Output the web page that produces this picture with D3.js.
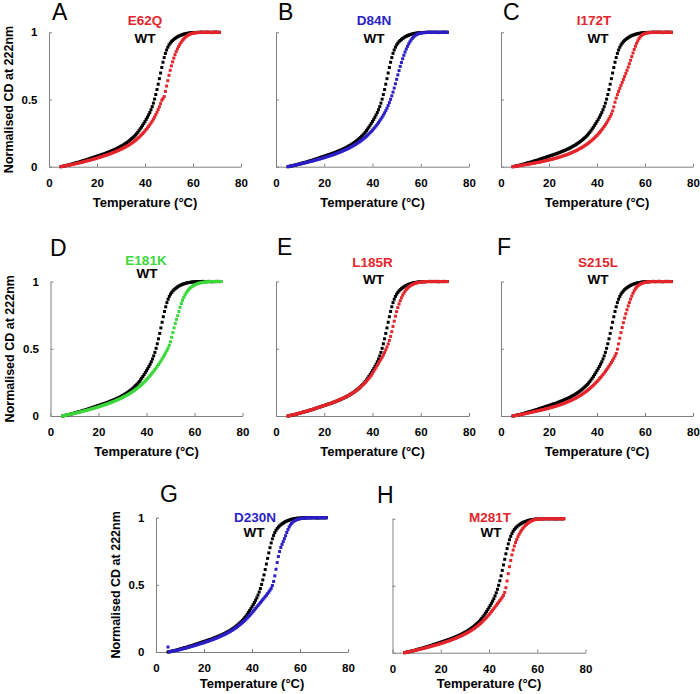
<!DOCTYPE html>
<html><head><meta charset="utf-8">
<script src="https://cdn.jsdelivr.net/npm/d3@7"></script>
<style>body{margin:0;background:#fff}svg{display:block}</style>
</head><body><svg id="c" width="700" height="694"></svg>
<script>
// ---------- DATA ----------
const temps = [
5,5.5,6,6.5,7,7.5,8,8.5,9,9.5,
10,10.5,11,11.5,12,12.5,13,13.5,14,14.5,
15,15.5,16,16.5,17,17.5,18,18.5,19,19.5,
20,20.5,21,21.5,22,22.5,23,23.5,24,24.5,
25,25.5,26,26.5,27,27.5,28,28.5,29,29.5,
30,30.5,31,31.5,32,32.5,33,33.5,34,34.5,
35,35.5,36,36.5,37,37.5,38,38.5,39,39.5,
40,40.5,41,41.5,42,42.5,43,43.5,44,44.5,
45,45.5,46,46.5,47,47.5,48,48.5,49,49.5,
50,50.5,51,51.5,52,52.5,53,53.5,54,54.5,
55,55.5,56,56.5,57,57.5,58,58.5,59,59.5,
60,60.5,61,61.5,62,62.5,63,63.5,64,64.5,
65,65.5,66,66.5,67,67.5,68,68.5,69,69.5,
70,70.5,71];

const wtValues = [
0.000,0.002,0.004,0.006,0.008,0.010,0.012,0.014,0.017,0.019,
0.022,0.025,0.027,0.030,0.032,0.034,0.037,0.040,0.043,0.045,
0.048,0.051,0.054,0.057,0.060,0.063,0.066,0.069,0.072,0.075,
0.078,0.081,0.084,0.087,0.090,0.093,0.096,0.099,0.103,0.106,
0.110,0.114,0.117,0.121,0.125,0.129,0.133,0.137,0.142,0.147,
0.152,0.157,0.162,0.168,0.174,0.180,0.187,0.194,0.201,0.209,
0.217,0.226,0.235,0.245,0.256,0.268,0.281,0.294,0.308,0.322,
0.337,0.352,0.368,0.385,0.403,0.424,0.447,0.473,0.503,0.537,
0.574,0.614,0.655,0.697,0.738,0.777,0.812,0.843,0.868,0.889,
0.906,0.919,0.930,0.939,0.947,0.954,0.960,0.966,0.971,0.975,
0.979,0.982,0.985,0.988,0.990,0.992,0.993,0.995,0.996,0.997,
0.997,0.998,0.999,0.998,1.000,0.999,1.000,1.001,0.999,1.000,
0.999,1.000,1.001,0.999,1.000,0.998,1.000,1.000,0.999,1.001,
1.000,0.999,1.000];

const e62qValues = [
0.000,0.002,0.004,0.005,0.007,0.009,0.010,0.012,0.014,0.016,
0.018,0.020,0.022,0.024,0.026,0.028,0.030,0.032,0.035,0.037,
0.039,0.042,0.044,0.046,0.049,0.051,0.054,0.056,0.059,0.061,
0.064,0.067,0.069,0.072,0.075,0.078,0.081,0.084,0.087,0.090,
0.093,0.096,0.100,0.103,0.107,0.110,0.114,0.118,0.122,0.126,
0.130,0.134,0.139,0.143,0.148,0.153,0.158,0.164,0.170,0.176,
0.182,0.189,0.196,0.203,0.211,0.219,0.228,0.237,0.246,0.256,
0.266,0.277,0.288,0.300,0.312,0.325,0.339,0.354,0.370,0.387,
0.405,0.425,0.446,0.469,0.494,0.508,0.522,0.560,0.600,0.640,
0.680,0.717,0.750,0.780,0.808,0.833,0.856,0.876,0.894,0.910,
0.924,0.937,0.948,0.958,0.966,0.973,0.979,0.984,0.988,0.991,
0.993,0.995,0.996,0.997,0.998,0.999,0.998,1.000,0.999,1.000,
1.000,0.999,1.001,1.000,0.999,1.000,0.998,1.000,1.001,0.999,
1.000,1.000,0.999];

const d84nValues = [
0.000,0.002,0.004,0.006,0.008,0.010,0.012,0.014,0.016,0.018,
0.020,0.022,0.024,0.026,0.028,0.031,0.033,0.035,0.038,0.040,
0.042,0.045,0.047,0.050,0.052,0.055,0.057,0.060,0.062,0.065,
0.068,0.071,0.073,0.076,0.079,0.082,0.085,0.088,0.091,0.094,
0.098,0.101,0.105,0.108,0.112,0.116,0.120,0.124,0.128,0.132,
0.137,0.141,0.146,0.151,0.156,0.161,0.166,0.172,0.178,0.184,
0.190,0.197,0.204,0.211,0.219,0.227,0.235,0.244,0.253,0.262,
0.272,0.282,0.293,0.304,0.316,0.328,0.341,0.355,0.369,0.384,
0.400,0.417,0.435,0.455,0.477,0.501,0.527,0.555,0.585,0.617,
0.650,0.683,0.715,0.746,0.775,0.803,0.829,0.853,0.875,0.895,
0.913,0.929,0.943,0.955,0.965,0.973,0.980,0.985,0.989,0.992,
0.994,0.996,0.997,0.998,0.998,0.999,1.000,0.999,1.000,1.001,
0.999,1.000,1.000,0.999,1.001,1.000,0.999,1.000,1.000,0.999,
1.000,1.001,1.000];

const i172tValues = [
0.000,0.001,0.003,0.004,0.006,0.007,0.009,0.010,0.012,0.013,
0.015,0.016,0.018,0.019,0.021,0.022,0.024,0.026,0.027,0.029,
0.031,0.033,0.034,0.036,0.038,0.040,0.042,0.044,0.046,0.048,
0.050,0.052,0.055,0.057,0.059,0.062,0.064,0.067,0.069,0.072,
0.075,0.078,0.081,0.084,0.087,0.090,0.094,0.097,0.101,0.105,
0.109,0.113,0.117,0.121,0.126,0.131,0.136,0.141,0.146,0.152,
0.158,0.164,0.170,0.177,0.184,0.191,0.199,0.207,0.215,0.224,
0.233,0.243,0.253,0.264,0.275,0.287,0.299,0.312,0.326,0.341,
0.357,0.374,0.392,0.415,0.445,0.480,0.510,0.536,0.560,0.583,
0.605,0.627,0.649,0.671,0.694,0.717,0.741,0.766,0.792,0.819,
0.846,0.872,0.896,0.918,0.937,0.953,0.966,0.976,0.983,0.988,
0.992,0.994,0.996,0.997,0.998,0.999,0.998,1.000,0.999,1.000,
1.001,1.000,0.999,1.000,1.000,0.998,1.000,1.001,0.999,1.000,
1.000,0.999,1.000];

const e181kValues = [
0.000,0.002,0.004,0.006,0.008,0.010,0.012,0.014,0.016,0.018,
0.020,0.022,0.024,0.026,0.029,0.031,0.033,0.035,0.038,0.040,
0.042,0.045,0.047,0.050,0.052,0.055,0.057,0.060,0.063,0.065,
0.068,0.071,0.074,0.077,0.080,0.083,0.086,0.089,0.092,0.095,
0.099,0.102,0.106,0.109,0.113,0.117,0.121,0.125,0.129,0.133,
0.138,0.142,0.147,0.152,0.157,0.162,0.167,0.173,0.179,0.185,
0.191,0.198,0.205,0.212,0.219,0.227,0.235,0.243,0.252,0.261,
0.270,0.280,0.290,0.300,0.311,0.322,0.333,0.345,0.357,0.370,
0.383,0.396,0.410,0.424,0.439,0.454,0.470,0.487,0.505,0.526,
0.552,0.585,0.620,0.655,0.688,0.718,0.746,0.777,0.808,0.836,
0.860,0.881,0.899,0.914,0.927,0.938,0.948,0.956,0.963,0.969,
0.974,0.978,0.982,0.985,0.988,0.990,0.992,0.994,0.995,0.996,
0.997,0.998,0.998,0.999,1.000,0.999,1.000,1.001,0.999,1.000,
1.000,1.001,1.000];

const l185rValues = [
0.000,0.003,0.005,0.007,0.009,0.011,0.013,0.015,0.018,0.020,
0.022,0.025,0.027,0.030,0.032,0.035,0.037,0.040,0.043,0.045,
0.048,0.051,0.054,0.057,0.060,0.063,0.066,0.069,0.072,0.075,
0.078,0.081,0.084,0.087,0.090,0.093,0.096,0.100,0.103,0.107,
0.110,0.114,0.118,0.122,0.126,0.130,0.134,0.138,0.143,0.148,
0.152,0.157,0.163,0.168,0.174,0.180,0.186,0.193,0.200,0.207,
0.215,0.223,0.231,0.240,0.249,0.259,0.269,0.280,0.291,0.303,
0.318,0.332,0.347,0.362,0.377,0.392,0.407,0.422,0.437,0.453,
0.472,0.492,0.513,0.536,0.562,0.592,0.627,0.666,0.705,0.742,
0.776,0.806,0.833,0.857,0.879,0.898,0.914,0.928,0.940,0.950,
0.959,0.966,0.972,0.977,0.981,0.985,0.988,0.990,0.992,0.994,
0.995,0.996,0.997,0.998,0.998,0.999,1.000,0.999,1.000,1.001,
1.000,0.999,1.000,1.000,0.999,1.001,1.000,0.999,1.000,1.000,
0.999,1.000,1.000];

const s215lValues = [
0.000,0.002,0.003,0.005,0.007,0.008,0.010,0.012,0.014,0.015,
0.017,0.019,0.021,0.023,0.025,0.027,0.029,0.031,0.033,0.035,
0.037,0.039,0.041,0.043,0.045,0.047,0.049,0.052,0.054,0.056,
0.059,0.061,0.064,0.066,0.069,0.071,0.074,0.077,0.080,0.083,
0.086,0.089,0.092,0.096,0.099,0.103,0.107,0.111,0.115,0.119,
0.123,0.128,0.132,0.137,0.142,0.147,0.153,0.158,0.164,0.170,
0.177,0.183,0.190,0.197,0.205,0.213,0.221,0.229,0.238,0.247,
0.256,0.266,0.276,0.286,0.297,0.308,0.320,0.332,0.344,0.357,
0.370,0.384,0.398,0.413,0.429,0.446,0.465,0.497,0.536,0.578,
0.620,0.658,0.694,0.728,0.760,0.790,0.818,0.844,0.869,0.892,
0.913,0.931,0.946,0.958,0.967,0.974,0.980,0.984,0.988,0.991,
0.993,0.995,0.996,0.997,0.998,0.999,1.000,0.999,1.000,0.998,
1.000,1.001,0.999,1.000,1.000,0.999,1.000,1.001,1.000,0.999,
1.000,1.000,0.999];

const d230nValues = [
0.037,0.000,0.002,0.004,0.006,0.008,0.010,0.012,0.014,0.016,
0.018,0.020,0.023,0.025,0.027,0.030,0.032,0.035,0.037,0.040,
0.042,0.045,0.048,0.050,0.053,0.056,0.059,0.062,0.064,0.067,
0.070,0.073,0.076,0.079,0.082,0.085,0.089,0.092,0.095,0.099,
0.102,0.106,0.110,0.114,0.118,0.122,0.126,0.130,0.135,0.139,
0.144,0.149,0.154,0.160,0.165,0.171,0.177,0.183,0.190,0.197,
0.204,0.211,0.219,0.227,0.235,0.244,0.253,0.262,0.272,0.282,
0.292,0.303,0.313,0.324,0.335,0.346,0.357,0.368,0.379,0.390,
0.401,0.412,0.423,0.435,0.447,0.460,0.474,0.495,0.525,0.567,
0.616,0.666,0.711,0.748,0.778,0.801,0.822,0.844,0.866,0.890,
0.912,0.931,0.946,0.958,0.967,0.974,0.980,0.984,0.987,0.990,
0.992,0.994,0.995,0.996,0.997,0.998,0.999,0.998,1.000,0.999,
1.000,1.001,1.000,0.999,1.000,1.000,0.999,1.001,1.000,0.999,
1.000,1.000,1.000];

const m281tValues = [
0.000,0.002,0.004,0.006,0.008,0.010,0.012,0.014,0.016,0.018,
0.020,0.022,0.024,0.026,0.028,0.031,0.033,0.035,0.038,0.040,
0.043,0.045,0.048,0.050,0.053,0.055,0.058,0.060,0.063,0.066,
0.068,0.071,0.074,0.077,0.080,0.083,0.086,0.089,0.092,0.096,
0.099,0.103,0.106,0.110,0.114,0.118,0.122,0.126,0.130,0.135,
0.139,0.144,0.149,0.154,0.159,0.165,0.171,0.177,0.183,0.190,
0.197,0.204,0.211,0.219,0.227,0.236,0.245,0.254,0.264,0.274,
0.284,0.295,0.306,0.317,0.329,0.341,0.353,0.365,0.377,0.389,
0.401,0.414,0.428,0.450,0.485,0.535,0.590,0.642,0.688,0.730,
0.766,0.796,0.822,0.845,0.866,0.884,0.900,0.914,0.927,0.938,
0.948,0.957,0.965,0.972,0.978,0.983,0.987,0.990,0.993,0.995,
0.996,0.997,0.998,0.999,0.998,1.000,0.999,1.000,1.001,1.000,
0.999,1.000,1.000,0.999,1.000,1.001,1.000,0.999,1.000,1.000,
0.999,1.000,1.000];

const panelLetters = ['A','B','C','D','E','F','G','H'];
const mutantNames = ['E62Q','D84N','I172T','E181K','L185R','S215L','D230N','M281T'];
const mutantSeries = [e62qValues,d84nValues,i172tValues,e181kValues,l185rValues,s215lValues,d230nValues,m281tValues];
const refName = 'WT';
const xTicks = [0,20,40,60,80];
const yTicks = [0,0.5,1];
const yTickLabels = ['0','0.5','1'];
const xTitle = 'Temperature (°C)';
const yTitle = 'Normalised CD at 222nm';

// ---------- STYLE / LAYOUT ----------
const RED = '#e4252b', BLUE = '#2c1fc6', GREEN = '#3ad83a';
const mutantColors = [RED, BLUE, RED, GREEN, RED, RED, BLUE, RED];
const layouts = [
  {x0:49,   x80:241,   yb:166.7, yt:32.3,  yl:true,  let:[52,20],   mut:[145,25],    wt:[145,42.5], title:206.5},
  {x0:276,  x80:469,   yb:166.7, yt:32.3,  yl:false, let:[278,20],  mut:[374,25],    wt:[374,42.5], title:206.5},
  {x0:501,  x80:693,   yb:166.7, yt:32.3,  yl:false, let:[503,20],  mut:[594,25],    wt:[598,42.5], title:206.5},
  {x0:50.5, x80:242.5, yb:416,   yt:281.5, yl:true,  let:[50,256],  mut:[146,264.5], wt:[147,278],  title:456},
  {x0:276,  x80:469,   yb:416,   yt:281.5, yl:false, let:[277,255], mut:[372.5,266.5], wt:[373.5,284],title:456},
  {x0:501,  x80:693,   yb:416,   yt:281.5, yl:false, let:[497,255], mut:[598,267],   wt:[598,284],  title:456},
  {x0:156,  x80:348,   yb:652,   yt:517.7, yl:true,  let:[160,502], mut:[255,522],   wt:[254,537],  title:688},
  {x0:392.5,x80:585.5, yb:652.7, yt:518.7, yl:false, let:[377,503], mut:[490,522],   wt:[491,537],  title:688}
];
const FONT = '"Liberation Sans", Arial, Helvetica, sans-serif';
const AXIS = '#808080';
const MS = 3;

const svg = d3.select('#c');
svg.append('rect').attr('width',700).attr('height',694).attr('fill','#fff');

panelLetters.forEach((letter, i) => {
  const L = layouts[i];
  const x = d3.scaleLinear().domain([0,80]).range([L.x0, L.x80]);
  const y = d3.scaleLinear().domain([0,1]).range([L.yb, L.yt]);
  const g = svg.append('g');

  const xa = g.append('g').attr('transform', `translate(0,${L.yb})`)
    .call(d3.axisBottom(x).tickValues(xTicks).tickSizeInner(-3).tickSizeOuter(0).tickPadding(12));
  const ya = g.append('g').attr('transform', `translate(${L.x0},0)`)
    .call(d3.axisLeft(y).tickValues(yTicks).tickSizeInner(-3).tickSizeOuter(0).tickPadding(11.5)
      .tickFormat(L.yl ? (d, j) => yTickLabels[j] : () => ''));
  [xa, ya].forEach(a => {
    a.select('.domain').attr('stroke', AXIS).attr('stroke-width', 1);
    a.selectAll('.tick line').attr('stroke', AXIS);
    a.selectAll('.tick text').attr('fill', '#000').style('font-family', FONT)
      .style('font-weight', 'bold').style('font-size', '11.5px');
  });

  g.append('text').attr('x', (L.x0 + L.x80) / 2).attr('y', L.title)
    .attr('text-anchor', 'middle').style('font-family', FONT).style('font-weight', 'bold')
    .style('font-size', '13px').text(xTitle);
  if (L.yl) {
    g.append('text')
      .attr('transform', `translate(${L.x0 - 36.5},${(L.yb + L.yt) / 2}) rotate(-90)`)
      .attr('text-anchor', 'middle').style('font-family', FONT).style('font-weight', 'bold')
      .style('font-size', '12.5px').text(yTitle);
  }

  const wtPts = temps.map((t, j) => [t, wtValues[j]]);
  const muPts = temps.map((t, j) => [t, mutantSeries[i][j]]);
  g.append('g').selectAll('rect').data(wtPts).join('rect')
    .attr('x', d => x(d[0]) - MS / 2).attr('y', d => y(d[1]) - MS / 2)
    .attr('width', MS).attr('height', MS).attr('fill', '#000');
  g.append('g').selectAll('rect').data(muPts).join('rect')
    .attr('x', d => x(d[0]) - MS / 2).attr('y', d => y(d[1]) - MS / 2)
    .attr('width', MS).attr('height', MS).attr('fill', mutantColors[i]);

  g.append('text').attr('x', L.let[0]).attr('y', L.let[1])
    .style('font-family', FONT).style('font-size', '23px').text(letter);
  g.append('text').attr('x', L.mut[0]).attr('y', L.mut[1]).attr('text-anchor', 'middle')
    .style('font-family', FONT).style('font-weight', 'bold').style('font-size', '13.5px')
    .attr('fill', mutantColors[i]).text(mutantNames[i]);
  g.append('text').attr('x', L.wt[0]).attr('y', L.wt[1]).attr('text-anchor', 'middle')
    .style('font-family', FONT).style('font-weight', 'bold').style('font-size', '13.5px')
    .attr('fill', '#000').text(refName);
});
</script></body></html>
